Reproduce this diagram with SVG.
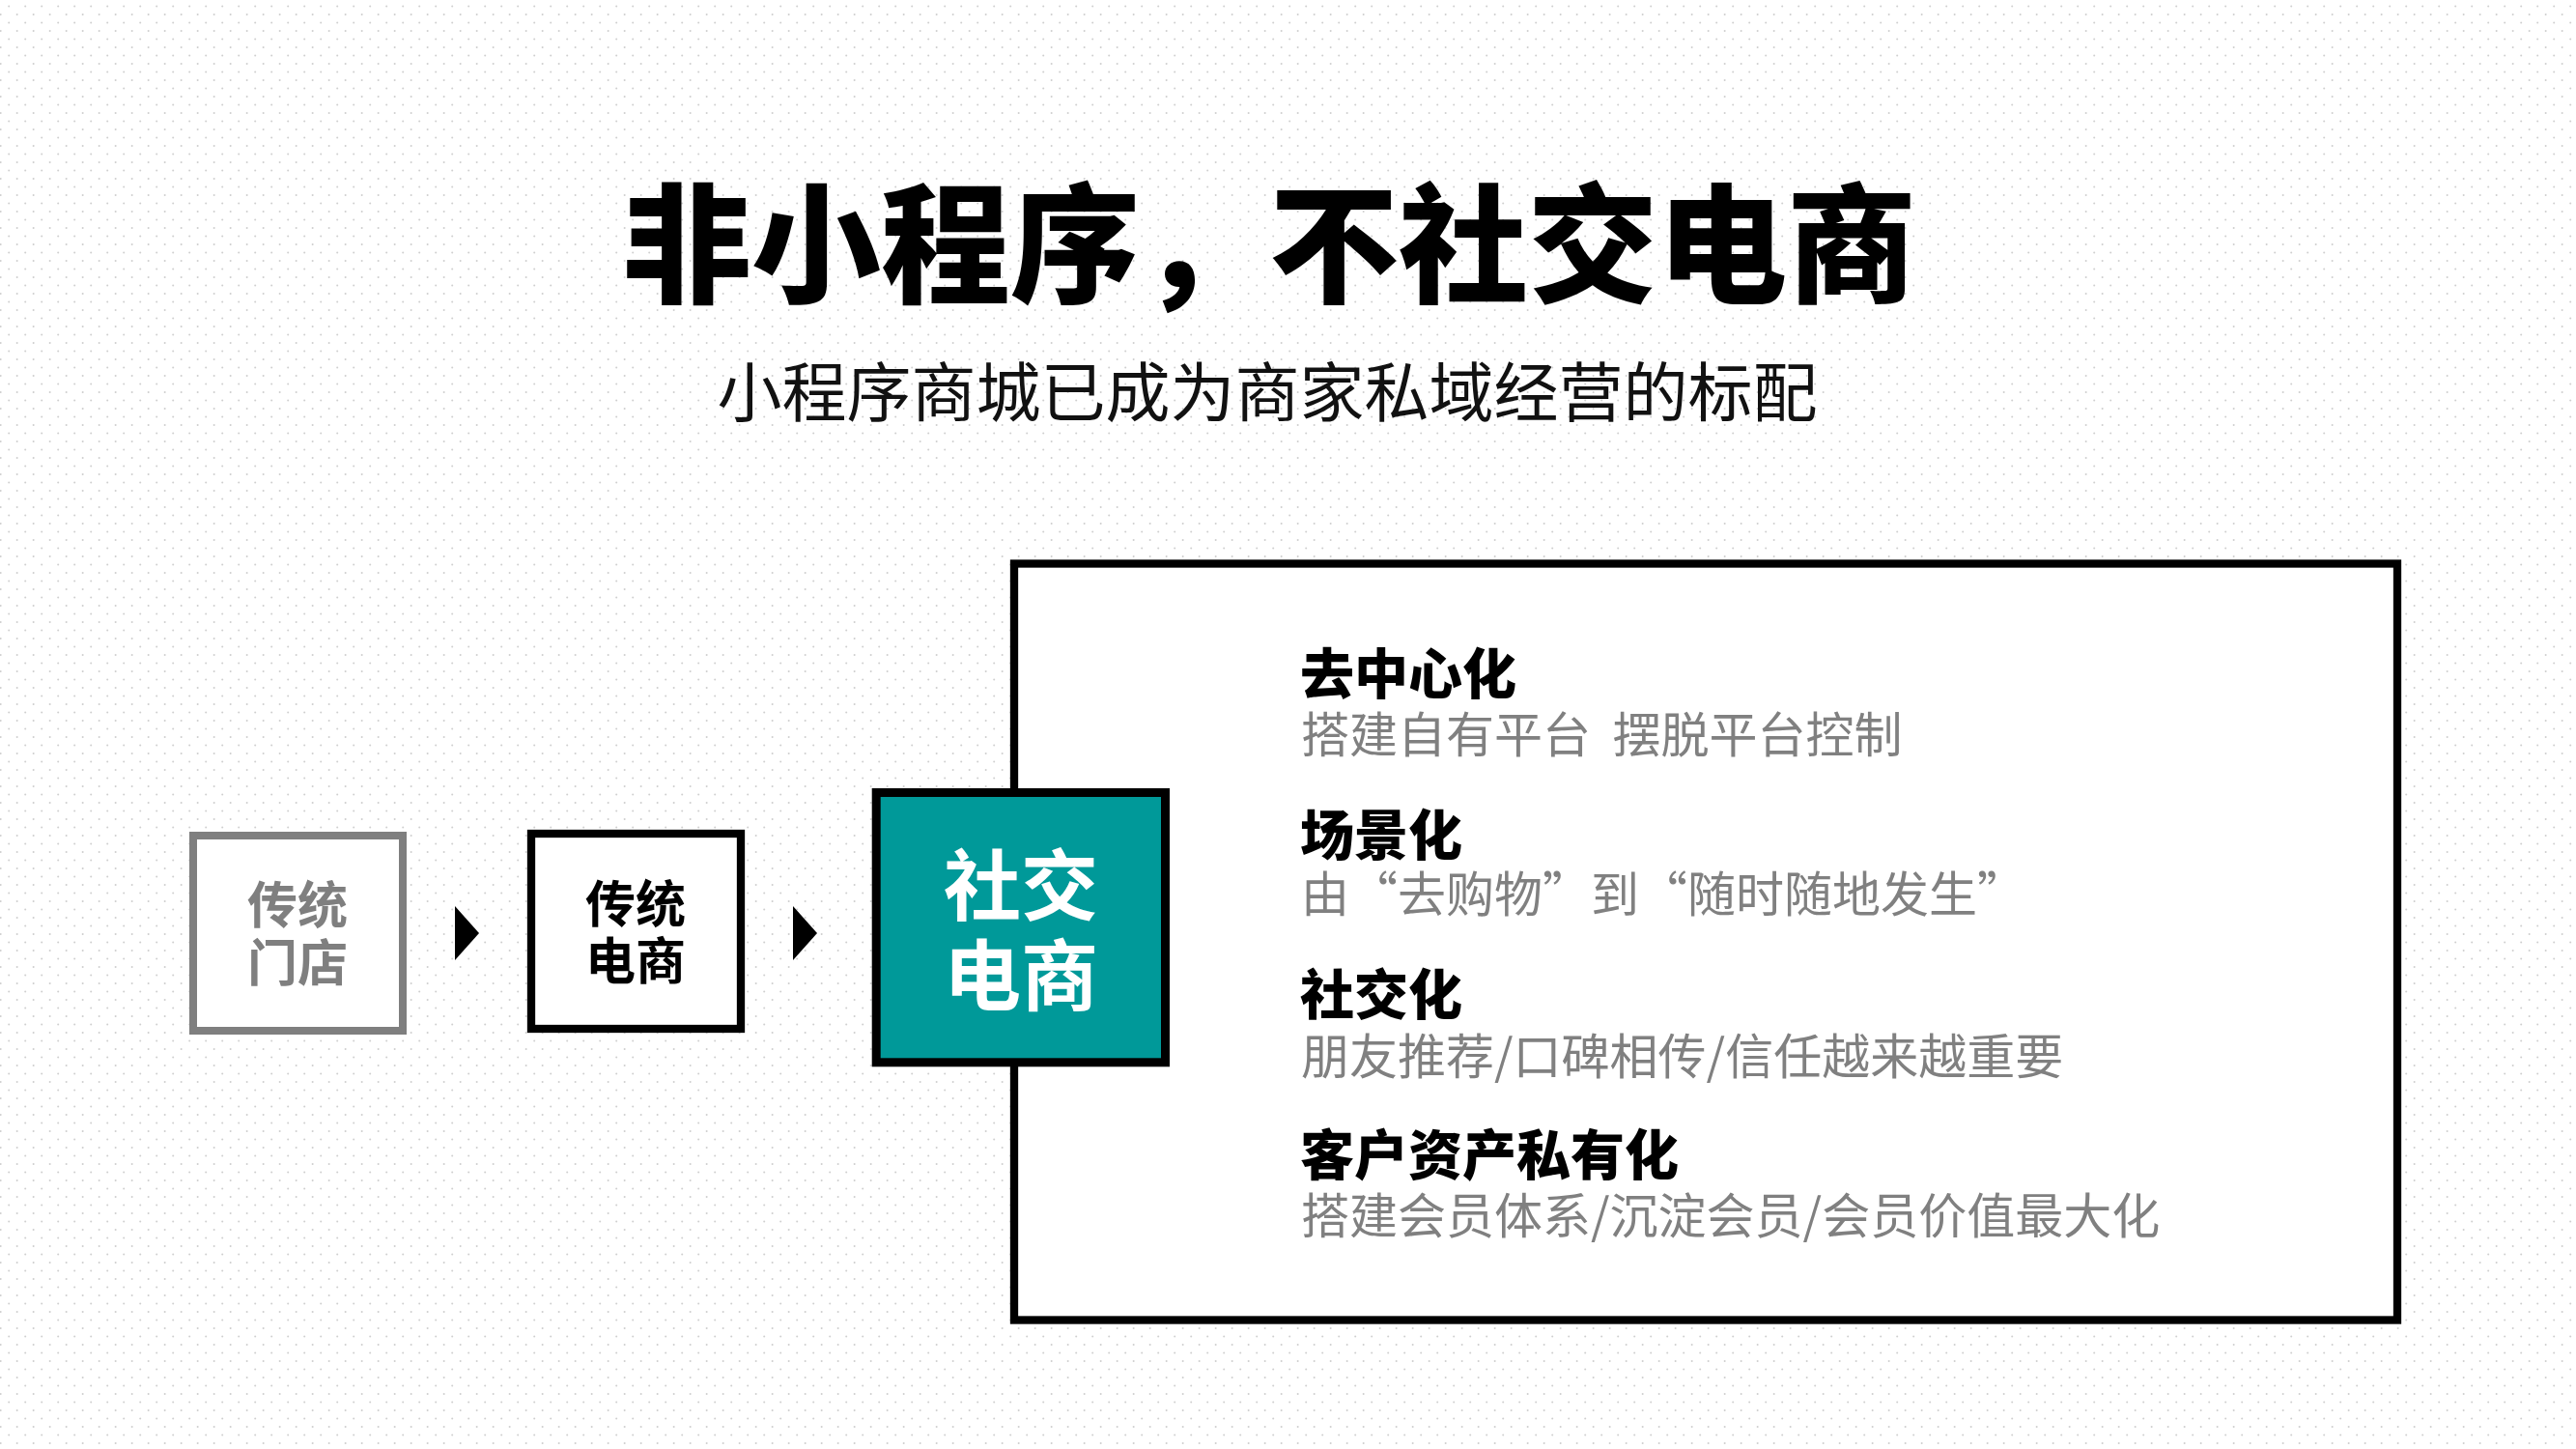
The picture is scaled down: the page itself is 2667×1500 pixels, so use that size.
<svg xmlns="http://www.w3.org/2000/svg" width="2667" height="1500" viewBox="0 0 2667 1500">
  <defs>
    <pattern id="dots" width="17" height="17" patternUnits="userSpaceOnUse">
      <circle cx="9.2" cy="6.5" r="1" fill="#cfcfcf"/>
      <circle cx="0.7" cy="15" r="1" fill="#cfcfcf"/>
      <circle cx="17.7" cy="15" r="1" fill="#cfcfcf"/>
    </pattern>
    <style>
      text { font-family: "Noto Sans CJK SC", "Liberation Sans", sans-serif; }
      .title { font-size: 134px; font-weight: 900; fill: #000; text-anchor: middle; }
      .sub { font-size: 67px; font-weight: 400; fill: #111; text-anchor: middle; }
      .lbl { font-size: 52px; font-weight: 700; text-anchor: middle; }
      .head { font-size: 56px; font-weight: 900; fill: #000; }
      .body { font-size: 50px; font-weight: 400; fill: #808080; white-space: pre; }
      .arrow { fill: #000; }
    </style>
  </defs>

  <rect width="2667" height="1500" fill="#ffffff"/>
  <rect width="2667" height="1500" fill="url(#dots)"/>

  <g id="title">
    <text class="title" x="1314" y="303">非小程序，不社交电商</text>
    <text class="sub" x="1312" y="431">小程序商城已成为商家私域经营的标配</text>
  </g>

  <g id="info-box">
    <rect x="1050" y="583.5" width="1432" height="783" fill="#ffffff" stroke="#000" stroke-width="8.3"/>
    <text class="head" x="1346" y="718">去中心化</text>
    <text class="body" x="1347" y="779" xml:space="preserve">搭建自有平台  摆脱平台控制</text>
    <text class="head" x="1346" y="885">场景化</text>
    <text class="body" x="1347" y="944">由“去购物”到“随时随地发生”</text>
    <text class="head" x="1346" y="1050">社交化</text>
    <text class="body" x="1347" y="1112">朋友推荐/口碑相传/信任越来越重要</text>
    <text class="head" x="1346" y="1216">客户资产私有化</text>
    <text class="body" x="1347" y="1277">搭建会员体系/沉淀会员/会员价值最大化</text>
  </g>

  <g id="node-store">
    <rect x="200" y="865" width="217" height="202" fill="#ffffff" stroke="#7f7f7f" stroke-width="8"/>
    <text class="lbl" fill="#7f7f7f"><tspan x="308" y="956">传统</tspan><tspan x="308" y="1016">门店</tspan></text>
  </g>

  <g id="node-ecommerce">
    <rect x="550" y="863" width="217" height="202" fill="#ffffff" stroke="#000" stroke-width="8.3"/>
    <text class="lbl" fill="#000"><tspan x="658" y="955">传统</tspan><tspan x="658" y="1014">电商</tspan></text>
  </g>

  <g id="node-social">
    <rect x="907.2" y="820.5" width="299.3" height="279.3" fill="#009999" stroke="#000" stroke-width="9"/>
    <text font-size="80" font-weight="700" fill="#ffffff" text-anchor="middle"><tspan x="1057" y="946">社交</tspan><tspan x="1057" y="1039">电商</tspan></text>
  </g>

  <g id="connectors">
    <polygon class="arrow" points="471,938 496,966 471,994"/>
    <polygon class="arrow" points="821,938 846,966 821,994"/>
  </g>
</svg>
